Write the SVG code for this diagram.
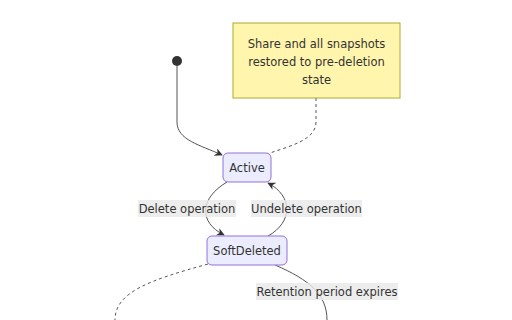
<svg xmlns="http://www.w3.org/2000/svg" width="512" height="320" viewBox="0 0 512 320">
<style>
text{font-family:"DejaVu Sans",Verdana,sans-serif;font-size:11.5px;fill:#333;text-anchor:middle}
.node rect{fill:#ECECFF;stroke:#9370DB;stroke-width:1}
.edge{fill:none;stroke:#555;stroke-width:1}
.dash{fill:none;stroke:#555;stroke-width:1;stroke-dasharray:3,3}
.lbl{fill:#e8e8e8;opacity:0.8}
</style>
<defs>
<marker id="arr" viewBox="0 0 10 10" refX="9" refY="5" markerWidth="8" markerHeight="8" orient="auto" markerUnits="userSpaceOnUse">
<path d="M0,0 L10,5 L0,10 L3,5 z" fill="#333"/>
</marker>
</defs>
<g id="connectors">
<path class="edge" d="M177,66 L177,122 C177,140 200,145 222,155" marker-end="url(#arr)"/>
<path class="dash" d="M316,98 L316,122 C316,140 290,146 270,153"/>
<path class="edge" d="M227,182 C200,198 198,222 224,235" marker-end="url(#arr)"/>
<path class="edge" d="M268,236 C293,222 293,196 268,183" marker-end="url(#arr)"/>
<path class="dash" d="M208,264 C150,280 115,292 115,320"/>
<path class="edge" d="M275,265 C310,280 327,295 327,320"/>
</g>
<g id="labels">
<rect class="lbl" x="138" y="200" width="98" height="17"/>
<text x="187" y="213">Delete operation</text>
<rect class="lbl" x="251" y="200" width="111" height="17"/>
<text x="306.5" y="213">Undelete operation</text>
<rect class="lbl" x="256" y="283" width="142" height="17"/>
<text x="327" y="296">Retention period expires</text>
</g>
<g id="start"><circle cx="177" cy="61" r="5" fill="#333"/></g>
<g id="note">
<rect x="233" y="23" width="167" height="75" fill="#fff5ad" stroke="#aaaa33" stroke-width="1"/>
<text x="316.5" y="48">Share and all snapshots</text>
<text x="316.5" y="66">restored to pre-deletion</text>
<text x="316.5" y="84">state</text>
</g>
<g id="active" class="node">
<rect x="223" y="153" width="48" height="29" rx="5"/>
<text x="247" y="172">Active</text>
</g>
<g id="softdeleted" class="node">
<rect x="207" y="236" width="80" height="29" rx="5"/>
<text x="247" y="255">SoftDeleted</text>
</g>
</svg>
